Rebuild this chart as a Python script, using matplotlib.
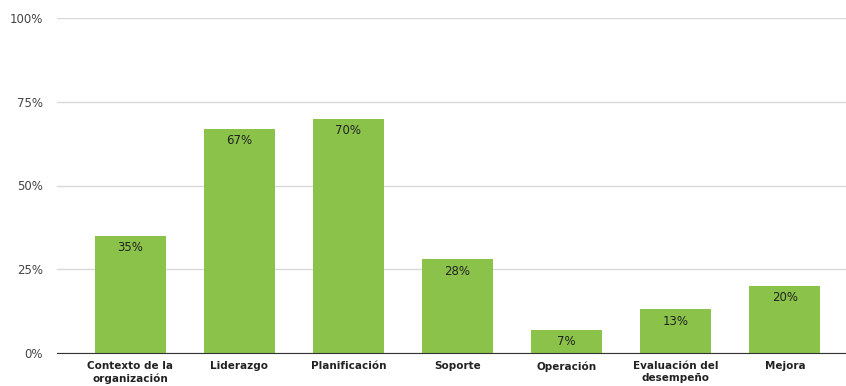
import matplotlib
matplotlib.use("Agg")
import matplotlib.pyplot as plt
from matplotlib.ticker import PercentFormatter

categories = ["Contexto de la\norganización", "Liderazgo", "Planificación", "Soporte",
              "Operación", "Evaluación del\ndesempeño", "Mejora"]
values = [35, 67, 70, 28, 7, 13, 20]
y_ticks = [0, 25, 50, 75, 100]

plt.rcParams['font.family'] = ['DejaVu Sans']

fig = plt.figure(figsize=(8.46, 3.86), dpi=100)
ax = fig.add_axes([57 / 846, 33 / 386, 789 / 846, 335 / 386])

x = range(len(categories))
bars = ax.bar(x, values, width=0.65, color="#8bc34a", zorder=3)

for b, v in zip(bars, values):
    ax.text(b.get_x() + b.get_width() / 2, v - 1.6, f"{v}%", ha="center", va="top",
            fontsize=8.5, color="#222222", zorder=4)

ax.set_xlim(-0.67, 6.56)
ax.set_ylim(0, 100)
ax.set_yticks(y_ticks)
ax.yaxis.set_major_formatter(PercentFormatter(decimals=0))
ax.set_xticks(list(x))
ax.set_xticklabels(categories, fontsize=7.5, fontweight="bold", color="#222222", linespacing=1.25)
ax.tick_params(axis="y", length=0, pad=10, labelsize=8.5, labelcolor="#444444")
ax.tick_params(axis="x", length=0, pad=6)

ax.grid(axis="y", color="#d9d9d9", linewidth=1, zorder=0)
for s in ["top", "right", "left"]:
    ax.spines[s].set_visible(False)
ax.spines["bottom"].set_color("#333333")
ax.spines["bottom"].set_zorder(5)

fig.savefig("out.png", dpi=100)
